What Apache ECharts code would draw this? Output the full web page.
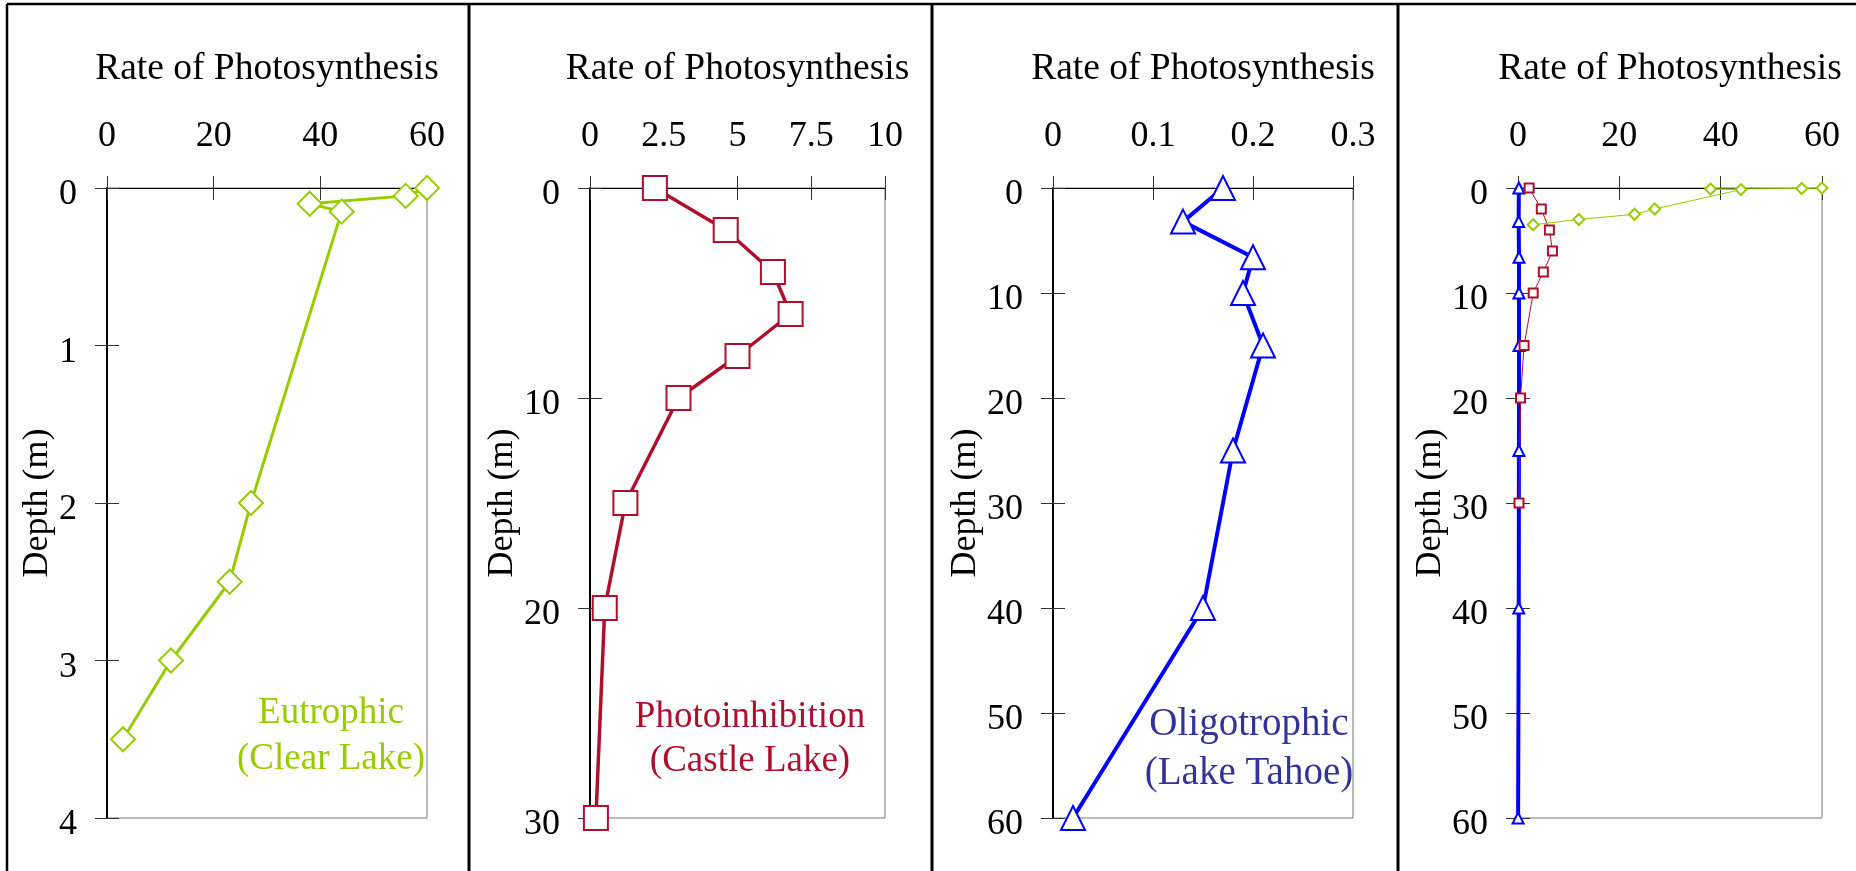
<!DOCTYPE html>
<html>
<head>
<meta charset="utf-8">
<title>Rate of Photosynthesis</title>
<script src="https://cdn.jsdelivr.net/npm/echarts@6/dist/echarts.min.js"></script>
<style>
  html, body { margin: 0; padding: 0; background: #fff; }
  #chart { width: 1856px; height: 871px; }
</style>
</head>
<body>
<div id="chart"></div>
<script>
// Clear Lake - eutrophic
const clearDepth = [0, 0.05, 0.1, 0.15, 2, 2.5, 3, 3.5];
const clearRate = [60, 56, 38, 44, 27, 23, 12, 3];
// Castle Lake - photoinhibition
const castleDepth = [0, 2, 4, 6, 8, 10, 15, 20, 30];
const castleRate = [2.2, 4.6, 6.2, 6.8, 5.0, 3.0, 1.2, 0.5, 0.2];
// Lake Tahoe - oligotrophic
const tahoeDepth = [0, 3.2, 6.6, 10, 15, 25, 40, 60];
const tahoeRate = [0.17, 0.13, 0.20, 0.19, 0.21, 0.18, 0.15, 0.02];

// axis ranges, one per panel
const rateMax = [60, 10, 0.3, 60];
const rateStep = [20, 2.5, 0.1, 20];
const depthMax = [4, 30, 60, 60];
const depthStep = [1, 10, 10, 10];

const GREEN = '#99cc00';
const RED = '#ad0f2d';
const BLUE = '#0000ff';
const FONT = 'Liberation Serif';

const grids = [
  { left: 107, top: 188, width: 320, height: 630 },
  { left: 590, top: 188, width: 295, height: 630 },
  { left: 1053, top: 188, width: 300, height: 630 },
  { left: 1518, top: 188, width: 304, height: 630 }
];
const depthNameGap = [48, 68, 68, 68];

function pairs(rate, depth) {
  return rate.map((r, i) => [r, depth[i]]);
}

const xAxis = [];
const yAxis = [];
grids.forEach((g, i) => {
  g.show = true;
  g.borderColor = '#777';
  g.borderWidth = 1;
  // main rate axis on top (outer ticks, labels, name)
  xAxis.push({
    gridIndex: i, type: 'value', position: 'top',
    min: 0, max: rateMax[i], interval: rateStep[i],
    name: 'Rate of Photosynthesis', nameLocation: 'middle', nameGap: 100,
    nameTextStyle: { fontFamily: FONT, fontSize: 37.5, color: '#000' },
    axisLine: { show: true, lineStyle: { color: '#000', width: 1 } },
    axisTick: { show: true, length: 12, lineStyle: { color: '#333', width: 1 } },
    axisLabel: { fontFamily: FONT, fontSize: 36, color: '#000', margin: 33 },
    splitLine: { show: false }
  });
  // inner half of the crossing ticks
  xAxis.push({
    gridIndex: i, type: 'value', position: 'top',
    min: 0, max: rateMax[i], interval: rateStep[i],
    axisLine: { show: false },
    axisTick: { show: true, inside: true, length: 12, lineStyle: { color: '#333', width: 1 } },
    axisLabel: { show: false },
    splitLine: { show: false }
  });
  yAxis.push({
    gridIndex: i, type: 'value', position: 'left', inverse: true,
    min: 0, max: depthMax[i], interval: depthStep[i],
    name: 'Depth (m)', nameLocation: 'middle', nameGap: depthNameGap[i],
    nameTextStyle: { fontFamily: FONT, fontSize: 36, color: '#000' },
    axisLine: { show: true, lineStyle: { color: '#000', width: 2 } },
    axisTick: { show: true, length: 12, lineStyle: { color: '#333', width: 1 } },
    // labels sit a little below their ticks in the original
    axisLabel: { fontFamily: FONT, fontSize: 36, color: '#000', margin: 30, verticalAlign: 'top', lineHeight: 14 },
    splitLine: { show: false }
  });
  yAxis.push({
    gridIndex: i, type: 'value', position: 'left', inverse: true,
    min: 0, max: depthMax[i], interval: depthStep[i],
    axisLine: { show: false },
    axisTick: { show: true, inside: true, length: 12, lineStyle: { color: '#333', width: 1 } },
    axisLabel: { show: false },
    splitLine: { show: false }
  });
});

function lineSeries(panel, data, color, symbol, size, width) {
  return {
    type: 'line',
    xAxisIndex: panel * 2, yAxisIndex: panel * 2,
    data: data,
    symbol: symbol, symbolSize: size,
    clip: false,
    lineStyle: { color: color, width: width },
    itemStyle: { color: '#fff', borderColor: color, borderWidth: 2 }
  };
}

const series = [
  lineSeries(0, pairs(clearRate, clearDepth), GREEN, 'diamond', 24, 3),
  lineSeries(1, pairs(castleRate, castleDepth), RED, 'rect', 24, 3.5),
  lineSeries(2, pairs(tahoeRate, tahoeDepth), BLUE, 'triangle', 24, 4),
  // all three lakes together
  lineSeries(3, pairs(tahoeRate, tahoeDepth), BLUE, 'triangle', 11, 4),
  lineSeries(3, pairs(castleRate, castleDepth), RED, 'rect', 9, 1),
  lineSeries(3, pairs(clearRate, clearDepth), GREEN, 'diamond', 11, 1)
];

function label(x, y, text, color, size) {
  return {
    type: 'text', x: x, y: y, z: 10,
    style: { text: text, fontFamily: FONT, fontSize: size, fill: color, align: 'center', verticalAlign: 'middle' }
  };
}
function rule(x1, y1, x2, y2, w) {
  return { type: 'line', shape: { x1: x1, y1: y1, x2: x2, y2: y2 }, style: { stroke: '#000', lineWidth: w } };
}

const graphic = [
  // table borders
  rule(7, 4, 1856, 4, 2.5),
  rule(7, 4, 7, 871, 2.5),
  rule(469, 4, 469, 871, 3),
  rule(932, 4, 932, 871, 3),
  rule(1398, 4, 1398, 871, 3),
  // lake labels
  label(331, 713, 'Eutrophic', GREEN, 37),
  label(331, 759, '(Clear Lake)', GREEN, 37),
  label(750, 717, 'Photoinhibition', RED, 37),
  label(750, 761, '(Castle Lake)', RED, 37),
  label(1249, 725, 'Oligotrophic', '#333399', 39),
  label(1249, 774, '(Lake Tahoe)', '#333399', 39)
];

const chart = echarts.init(document.getElementById('chart'));
chart.setOption({
  animation: false,
  backgroundColor: '#fff',
  grid: grids,
  xAxis: xAxis,
  yAxis: yAxis,
  series: series,
  graphic: graphic
});
</script>
</body>
</html>
